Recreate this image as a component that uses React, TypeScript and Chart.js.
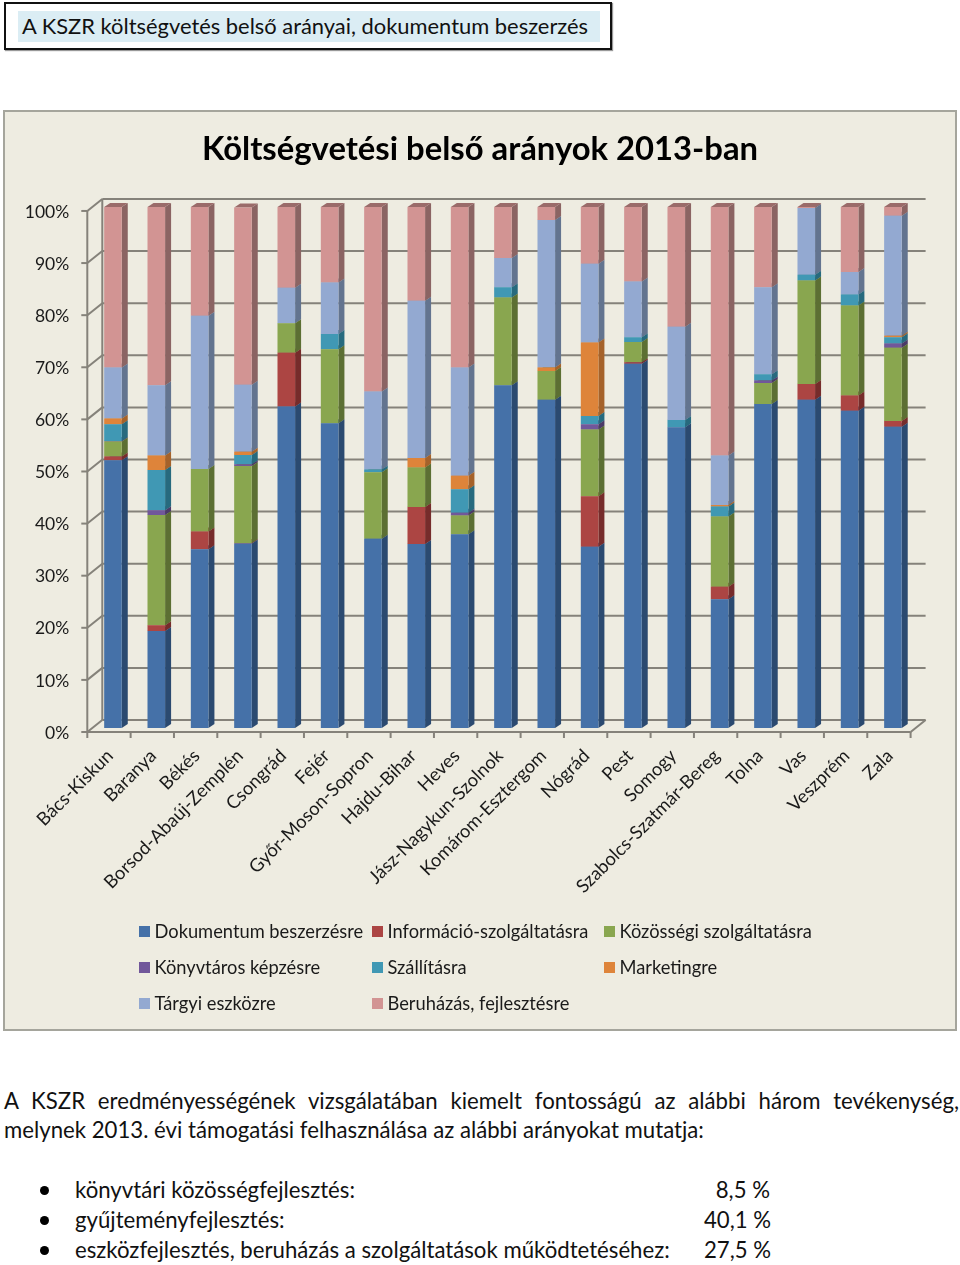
import { useEffect, useRef } from "react";
import { Chart, registerables } from "chart.js";

Chart.register(...registerables);

const counties = [
  "Bács-Kiskun", "Baranya", "Békés", "Borsod-Abaúj-Zemplén", "Csongrád", "Fejér", "Győr-Moson-Sopron",
  "Hajdu-Bihar", "Heves", "Jász-Nagykun-Szolnok", "Komárom-Esztergom", "Nógrád", "Pest", "Somogy",
  "Szabolcs-Szatmár-Bereg", "Tolna", "Vas", "Veszprém", "Zala",
];

const dokumentum = [51.4, 18.6, 34.3, 35.4, 61.7, 58.5, 36.3, 35.3, 37.2, 65.8, 63.0, 34.8, 69.9, 57.7, 24.7, 62.2, 63.0, 60.9, 57.8];
const informacio = [0.7, 1.1, 3.4, 0.1, 10.3, 0, 0, 7.1, 0, 0, 0, 9.7, 0.3, 0, 2.4, 0, 3.0, 2.9, 1.1];
const kozossegi = [2.9, 21.2, 12.0, 14.8, 5.7, 14.2, 12.8, 7.6, 3.6, 16.8, 5.5, 12.8, 3.9, 0, 13.5, 4.0, 19.9, 17.3, 14.1];
const konyvtaros = [0.1, 0.9, 0, 0.3, 0, 0, 0, 0, 0.5, 0, 0, 1.0, 0, 0, 0, 0.5, 0, 0, 0.8];
const szallitas = [3.2, 7.7, 0, 1.8, 0, 2.9, 0.5, 0, 4.5, 2.0, 0, 1.6, 0.9, 1.4, 1.9, 1.2, 1.1, 2.1, 1.2];
const marketing = [1.1, 2.8, 0, 0.6, 0, 0, 0, 1.8, 2.6, 0, 0.7, 14.1, 0, 0, 0.3, 0, 0, 0, 0.3];
const targyi = [9.8, 13.5, 29.4, 12.9, 6.8, 9.9, 15.0, 30.2, 20.8, 5.6, 28.3, 15.1, 10.7, 17.9, 9.5, 16.7, 12.8, 4.3, 23.0];
const beruhazas = [30.8, 34.2, 20.9, 34.0, 15.5, 14.5, 35.4, 18.0, 30.8, 9.8, 2.5, 10.9, 14.3, 23.0, 47.7, 15.4, 0.2, 12.5, 1.7];

const seriesNames = [
  "Dokumentum beszerzésre", "Információ-szolgáltatásra", "Közösségi szolgáltatásra", "Könyvtáros képzésre",
  "Szállításra", "Marketingre", "Tárgyi eszközre", "Beruházás, fejlesztésre",
];
const seriesValues = [dokumentum, informacio, kozossegi, konyvtaros, szallitas, marketing, targyi, beruhazas];

const frontColors = ["#4571a8", "#ac4543", "#89a64f", "#71579a", "#4098b4", "#de843a", "#93a9d1", "#d29493"];
const sideColors = ["#2b4a70", "#762c2b", "#5c6f33", "#4b3a68", "#276a7e", "#a5622a", "#63748f", "#8b6463"];
const topColors = ["#35598a", "#8a3533", "#6b8239", "#59447c", "#2f7890", "#b56d2c", "#75869f", "#9a6b6a"];

const LINE_COLOR = "#85827a";
const FONT = "Lato";
const DEPTH_X = 6; // bar side face
const DEPTH_Y = 4;

// back wall, floor and front axes of the 3D box, all taken from the scales
const wallPlugin = {
  id: "wall",
  // the y labels are clipped to the axis box, so open it up to the canvas edge
  afterLayout(chart: any) {
    chart.scales.y.left = 0;
  },
  beforeDatasetsDraw(chart: any) {
    const { ctx, chartArea, scales } = chart;
    const { left, right } = chartArea;
    const band = (right - left) / counties.length;
    ctx.save();
    ctx.strokeStyle = LINE_COLOR;
    ctx.lineWidth = 2;
    const line = (x1: number, y1: number, x2: number, y2: number) => {
      ctx.beginPath();
      ctx.moveTo(x1, y1);
      ctx.lineTo(x2, y2);
      ctx.stroke();
    };
    for (const tick of scales.y.ticks) {
      const y = scales.y.getPixelForValue(tick.value);
      line(left + 11, y - 8, right + 11, y - 8);
      line(left - 4, y + 4, left + 11, y - 8);
      line(left - 10, y + 4, left - 4, y + 4);
    }
    const top = scales.y.getPixelForValue(100);
    const zero = scales.y.getPixelForValue(0);
    line(left - 4, top + 4, left - 4, zero + 4);
    line(left + 11, top - 8, left + 11, zero - 8);
    line(left - 4, zero + 4, right - 4, zero + 4);
    line(right - 4, zero + 4, right + 11, zero - 8);
    for (let i = 0; i <= counties.length; i++) {
      const x = left - 4 + i * band;
      line(x, zero + 4, x, zero + 10);
    }

    // side and top faces of the bars, the library draws the front
    chart.data.datasets.forEach((ds: any, d: number) => {
      chart.getDatasetMeta(d).data.forEach((bar: any) => {
        const { x, y, base, width } = bar.getProps(["x", "y", "base", "width"], true);
        if (Math.abs(base - y) < 0.01) return;
        const r = x + width / 2;
        const l = x - width / 2;
        ctx.fillStyle = sideColors[d];
        ctx.beginPath();
        ctx.moveTo(r, y);
        ctx.lineTo(r + DEPTH_X, y - DEPTH_Y);
        ctx.lineTo(r + DEPTH_X, base - DEPTH_Y);
        ctx.lineTo(r, base);
        ctx.closePath();
        ctx.fill();
        ctx.fillStyle = topColors[d];
        ctx.beginPath();
        ctx.moveTo(l, y);
        ctx.lineTo(l + DEPTH_X, y - DEPTH_Y);
        ctx.lineTo(r + DEPTH_X, y - DEPTH_Y);
        ctx.lineTo(r, y);
        ctx.closePath();
        ctx.fill();
      });
    });
    ctx.restore();
  },
};

// three column legend, the built-in one does not line up in columns
const legendColumns = [136, 369, 601];
const legendRows = [822, 858, 894];
const legendPlugin = {
  id: "gridLegend",
  afterDraw(chart: any) {
    const { ctx } = chart;
    ctx.save();
    ctx.font = `18.3px ${FONT}`;
    ctx.textBaseline = "middle";
    chart.data.datasets.forEach((ds: any, i: number) => {
      const x = legendColumns[i % 3];
      const y = legendRows[Math.floor(i / 3)];
      ctx.fillStyle = ds.backgroundColor;
      ctx.fillRect(x, y - 6, 11, 11);
      ctx.fillStyle = "#1a1a1a";
      ctx.fillText(ds.label, x + 15.5, y);
    });
    ctx.restore();
  },
};

function line(text: string, left: number, top: number, extra: any = {}) {
  return (
    <div
      style={{
        position: "absolute",
        left,
        top,
        whiteSpace: "nowrap",
        fontFamily: FONT,
        fontSize: 22.2,
        lineHeight: "30px",
        color: "#111",
        ...extra,
      }}
    >
      {text}
    </div>
  );
}

export default function App() {
  const canvasRef = useRef<HTMLCanvasElement | null>(null);

  useEffect(() => {
    if (!canvasRef.current) return;
    const chart = new Chart(canvasRef.current, {
      type: "bar",
      data: {
        labels: counties,
        datasets: seriesValues.map((values, i) => ({
          label: seriesNames[i],
          data: values,
          backgroundColor: frontColors[i],
          borderWidth: 0,
          categoryPercentage: 1,
          barPercentage: 0.406,
        })),
      },
      plugins: [wallPlugin, legendPlugin],
      options: {
        responsive: false,
        animation: false,
        // equal side padding keeps the title centred on the canvas
        layout: { padding: { left: 42.4, right: 42.4, top: 0, bottom: 0 } },
        scales: {
          x: {
            stacked: true,
            grid: { display: false },
            border: { display: false },
            afterFit: (s: any) => { s.height = 303; },
            ticks: {
              autoSkip: false,
              minRotation: 45,
              maxRotation: 45,
              padding: 9,
              labelOffset: -3,
              color: "#1a1a1a",
              font: { family: FONT, size: 18.4 },
            },
          },
          y: {
            stacked: true,
            min: 0,
            max: 100,
            grid: { display: false },
            border: { display: false },
            afterFit: (s: any) => { s.width = 45.9; },
            ticks: {
              stepSize: 10,
              padding: 14,
              labelOffset: 5,
              callback: (v: any) => `${v}%`,
              color: "#1a1a1a",
              font: { family: FONT, size: 17.5 },
            },
          },
        },
        plugins: {
          legend: { display: false },
          tooltip: { enabled: false },
          title: {
            display: true,
            text: "Költségvetési belső arányok 2013-ban",
            color: "#000",
            font: { family: FONT, size: 32.8, weight: "bold" },
            padding: { top: 20, bottom: 37.6 },
          },
        },
      },
    } as any);
    return () => chart.destroy();
  }, []);

  return (
    <div style={{ position: "absolute", left: 0, top: 0, width: 960, height: 1265, overflow: "hidden" }}>
      <div style={{ position: "absolute", left: 4, top: 2, width: 608, height: 48, boxSizing: "border-box", border: "2px solid #111", boxShadow: "1px 1px 1px #999" }} />
      <div style={{ position: "absolute", left: 18, top: 11, width: 582, height: 31, background: "#dbedf4" }} />
      {line("A KSZR költségvetés belső arányai, dokumentum beszerzés", 22, 11, { fontSize: 21.9 })}

      <div style={{ position: "absolute", left: 3, top: 110, width: 954, height: 921, background: "#eeece1", outline: "2px solid #a5a59c", outlineOffset: -2 }}>
        <canvas ref={canvasRef} width={954} height={921} />
      </div>

      {line("A KSZR eredményességének vizsgálatában kiemelt fontosságú az alábbi három tevékenység,", 4, 1086, { width: 955, whiteSpace: "normal", textAlign: "justify", textAlignLast: "justify" })}
      {line("melynek 2013. évi támogatási felhasználása az alábbi arányokat mutatja:", 4, 1115)}

      {[1190, 1220, 1250].map((y) => (
        <div key={y} style={{ position: "absolute", left: 40, top: y - 4, width: 9, height: 9, borderRadius: 5, background: "#000" }} />
      ))}
      {line("könyvtári közösségfejlesztés:", 75, 1175)}
      {line("gyűjteményfejlesztés:", 75, 1205)}
      {line("eszközfejlesztés, beruházás a szolgáltatások működtetéséhez:", 75, 1235)}
      {line("8,5 %", 670, 1175, { width: 100, textAlign: "right" })}
      {line("40,1 %", 671, 1205, { width: 100, textAlign: "right" })}
      {line("27,5 %", 671, 1235, { width: 100, textAlign: "right" })}
    </div>
  );
}
